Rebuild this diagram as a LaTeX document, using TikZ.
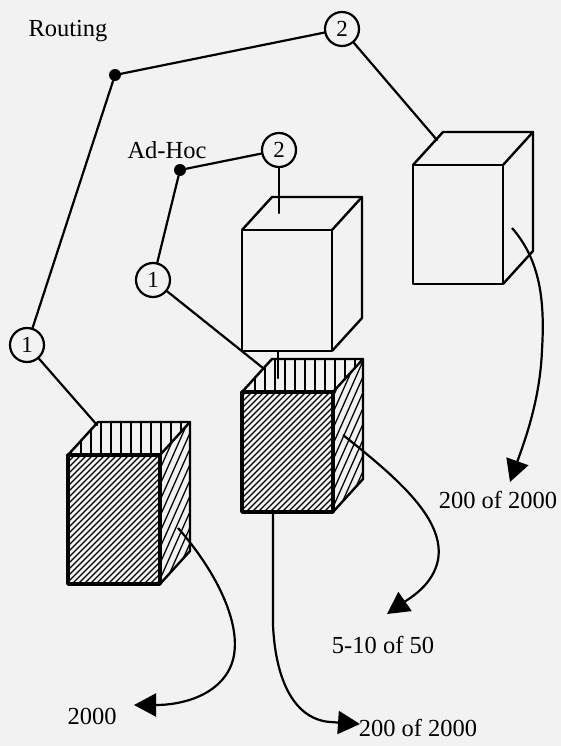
\documentclass[tikz,border=0pt]{standalone}
\usepackage{fontspec}
\setmainfont{Liberation Serif}
\usetikzlibrary{arrows.meta}
\tikzset{
  edge/.style={line width=2.2pt, line cap=round},
  outline/.style={line width=2.4pt, line join=round},
  thickout/.style={line width=3.6pt, line join=round},
  hatchline/.style={line width=1.3pt},
  nodecirc/.style={circle, draw, line width=2.2pt, minimum size=34pt, inner sep=0pt, font=\fontsize{23}{24}\selectfont},
  junction/.style={circle, fill, minimum size=12pt, inner sep=0pt},
  lbl/.style={font=\fontsize{24.5}{29}\selectfont, inner sep=0pt},
  flow/.style={line width=2.2pt, -{Triangle[length=22pt,width=23pt]}},
}
% #1 left, #2 top, #3 right, #4 bottom of the front face
\newcommand\plaincube[4]{%
  \draw[outline] (#1,#2) rectangle (#3,#4);
  \draw[outline] (#1,#2) -- ++(30,-33) -- ({#3+30},{#2-33}) -- (#3,#2);
  \draw[outline] ({#3+30},{#2-33}) -- ({#3+30},{#4-33}) -- (#3,#4);
}
\newcommand\hatchcube[4]{%
  \begin{scope}
    \clip (#1,#2) rectangle (#3,#4);
    \foreach \i in {-140,-134,...,100} \draw[hatchline] ({#1+(\i)},#4) -- ++(150,-150);
  \end{scope}
  \begin{scope}
    \clip (#3,#2) -- ++(30,-33) -- ({#3+30},{#4-33}) -- (#3,#4) -- cycle;
    \foreach \i in {-80,-73,...,40} \draw[hatchline] ({#3+(\i)},{#4+2}) -- ++(80,-180);
  \end{scope}
  \begin{scope}
    \clip (#1,#2) -- ++(30,-33) -- ({#3+30},{#2-33}) -- (#3,#2) -- cycle;
    \foreach \i in {3,13,...,130} \draw[line width=1.9pt] ({#1+(\i)},#2) -- ++(0,-40);
  \end{scope}
  \draw[outline] (#1,#2) -- ++(30,-33) -- ({#3+30},{#2-33}) -- (#3,#2);
  \draw[outline] ({#3+30},{#2-33}) -- ({#3+30},{#4-33}) -- (#3,#4);
  \draw[thickout] (#1,#2) rectangle (#3,#4);
}
\begin{document}
\begin{tikzpicture}[x=1pt,y=-1pt]
\fill[black!5] (0,0) rectangle (561,746);
\useasboundingbox (0,0) rectangle (561,746);

\plaincube{413}{165}{503}{284}
\plaincube{242}{230}{332}{351}
\hatchcube{242}{392}{333}{512}
\hatchcube{68}{455}{160}{584}

\node[lbl] (routing) at (68,31) {Routing};
\node[lbl] (adhoc) at (167,150) {Ad-Hoc};
\node[nodecirc] (R2) at (342,29) {2};
\node[junction] (RD) at (115,75) {};
\node[nodecirc] (R1) at (27,345) {1};
\node[nodecirc] (A2) at (279,150) {2};
\node[junction] (AD) at (180,170) {};
\node[nodecirc] (A1) at (153,280) {1};

\coordinate (rcube) at (437,140);
\coordinate (lcube) at (97,425);
\coordinate (mtop) at (279,213);
\coordinate (hcube) at (263,368);
\coordinate (mb1) at (278,351);
\coordinate (mb2) at (278,378);

\draw[edge] (R1) -- (RD) -- (R2);
\draw[edge] (R2) -- (rcube);
\draw[edge] (R1) -- (lcube);
\draw[edge] (A1) -- (AD) -- (A2);
\draw[edge] (A2) -- (mtop);
\draw[edge] (A1) -- (hcube);
\draw[edge] (mb1) -- (mb2);

\coordinate (ls) at (178,528);
\coordinate (le) at (134,705);
\coordinate (ms) at (343,435);
\coordinate (me) at (387,614);
\coordinate (rs) at (512,228);
\coordinate (re) at (510,482);
\coordinate (bs) at (273,512);
\coordinate (be) at (360,724);

\draw[flow] (ls) .. controls (215,570) and (240,620) .. (234,655) .. controls (228,690) and (190,705) .. (le);
\draw[flow] (ms) .. controls (400,480) and (445,520) .. (438,560) .. controls (433,585) and (410,598) .. (me);
\draw[flow] (rs) .. controls (540,260) and (545,300) .. (542,350) .. controls (540,400) and (525,440) .. (re);
\draw[flow] (bs) -- (273,625) .. controls (276,690) and (300,720) .. (330,722) -- (be);

\node[lbl] (t2000) at (92,716) {2000};
\node[lbl] (t510) at (383,645) {5-10 of 50};
\node[lbl] (t200a) at (498,500) {200 of 2000};
\node[lbl] (t200b) at (418,728) {200 of 2000};
\end{tikzpicture}
\end{document}
